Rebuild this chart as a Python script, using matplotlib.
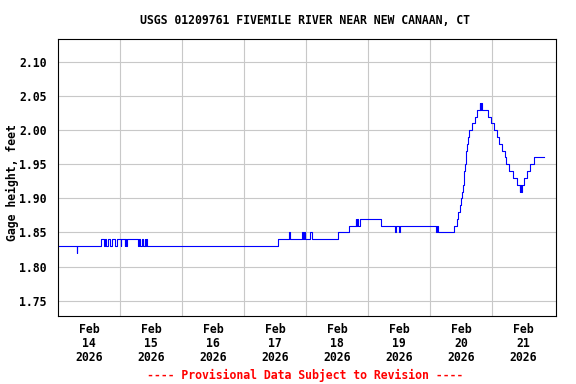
import pandas as pd
import numpy as np
import matplotlib
matplotlib.use('Agg')
import matplotlib.pyplot as plt

# gage height readings (breakpoints of the step series)
times = [
    "2026-02-14 00:00", "2026-02-14 07:15", "2026-02-14 07:30", "2026-02-14 16:45",
    "2026-02-14 17:45", "2026-02-14 18:15", "2026-02-14 18:45", "2026-02-14 19:15",
    "2026-02-14 20:15", "2026-02-14 21:00", "2026-02-14 22:15", "2026-02-14 22:45",
    "2026-02-15 00:15", "2026-02-15 00:30", "2026-02-15 01:45", "2026-02-15 02:00",
    "2026-02-15 02:30", "2026-02-15 02:45", "2026-02-15 07:00", "2026-02-15 07:15",
    "2026-02-15 07:45", "2026-02-15 08:30", "2026-02-15 08:45", "2026-02-15 09:30",
    "2026-02-15 09:45", "2026-02-15 10:15", "2026-02-15 10:30", "2026-02-17 13:15",
    "2026-02-17 17:30", "2026-02-17 17:45", "2026-02-17 22:15", "2026-02-17 22:45",
    "2026-02-17 23:15", "2026-02-17 23:30", "2026-02-18 01:30", "2026-02-18 02:30",
    "2026-02-18 12:15", "2026-02-18 16:30", "2026-02-18 19:15", "2026-02-18 19:30",
    "2026-02-18 19:45", "2026-02-18 20:00", "2026-02-18 20:45", "2026-02-19 05:00",
    "2026-02-19 10:15", "2026-02-19 10:45", "2026-02-19 12:00", "2026-02-19 12:30",
    "2026-02-20 02:15", "2026-02-20 02:45", "2026-02-20 03:00", "2026-02-20 09:15",
    "2026-02-20 10:15", "2026-02-20 11:00", "2026-02-20 11:45", "2026-02-20 12:00",
    "2026-02-20 12:30", "2026-02-20 12:45", "2026-02-20 13:00", "2026-02-20 13:15",
    "2026-02-20 13:30", "2026-02-20 13:45", "2026-02-20 14:00", "2026-02-20 14:15",
    "2026-02-20 14:30", "2026-02-20 15:00", "2026-02-20 16:15", "2026-02-20 17:15",
    "2026-02-20 18:15", "2026-02-20 19:15", "2026-02-20 19:30", "2026-02-20 19:45",
    "2026-02-20 20:15", "2026-02-20 22:30", "2026-02-20 23:30", "2026-02-21 00:45",
    "2026-02-21 02:00", "2026-02-21 02:30", "2026-02-21 03:45", "2026-02-21 05:00",
    "2026-02-21 05:30", "2026-02-21 06:30", "2026-02-21 08:15", "2026-02-21 09:30",
    "2026-02-21 10:45", "2026-02-21 11:00", "2026-02-21 11:15", "2026-02-21 11:45",
    "2026-02-21 12:30", "2026-02-21 13:30", "2026-02-21 14:30", "2026-02-21 16:15",
    "2026-02-21 20:15",
]
gage_ft = [
    1.83, 1.82, 1.83, 1.84,
    1.83, 1.84, 1.83, 1.84,
    1.83, 1.84, 1.83, 1.84,
    1.83, 1.84, 1.83, 1.84,
    1.83, 1.84, 1.83, 1.84,
    1.83, 1.84, 1.83, 1.84,
    1.83, 1.84, 1.83, 1.84,
    1.85, 1.84, 1.85, 1.84,
    1.85, 1.84, 1.85, 1.84,
    1.85, 1.86, 1.87, 1.86,
    1.87, 1.86, 1.87, 1.86,
    1.85, 1.86, 1.85, 1.86,
    1.85, 1.86, 1.85, 1.86,
    1.87, 1.88, 1.89, 1.90,
    1.91, 1.92, 1.93, 1.94,
    1.95, 1.96, 1.97, 1.98,
    1.99, 2.00, 2.01, 2.02,
    2.03, 2.04, 2.03, 2.04,
    2.03, 2.02, 2.01, 2.00,
    1.99, 1.98, 1.97, 1.96,
    1.95, 1.94, 1.93, 1.92,
    1.91, 1.92, 1.91, 1.92,
    1.93, 1.94, 1.95, 1.96,
    1.96,
]

title = "USGS 01209761 FIVEMILE RIVER NEAR NEW CANAAN, CT"
ylabel = "Gage height, feet"
footer = "---- Provisional Data Subject to Revision ----"
yticks = [1.75, 1.80, 1.85, 1.90, 1.95, 2.00, 2.05, 2.10]
label_days = pd.date_range("2026-02-14 12:00", "2026-02-21 12:00", freq="D")
grid_days = pd.date_range("2026-02-15", "2026-02-21", freq="D")

df = pd.DataFrame({'dt': pd.to_datetime(times), 'gage': gage_ft})

fnt = 'DejaVu Sans Mono'
fig = plt.figure(figsize=(5.76, 3.84), dpi=100)
ax = fig.add_axes([58/576, 1-316/384, 498/576, 277/384])

ax.plot(df['dt'], df['gage'], drawstyle='steps-post', color='#0000ff', lw=0.8)

ax.set_xlim(pd.Timestamp("2026-02-14 00:00"), pd.Timestamp("2026-02-22 00:45"))
ax.set_ylim(1.7275, 2.1338)

ax.set_yticks(yticks)
ax.set_yticklabels(["%.2f" % v for v in yticks], fontfamily=fnt, fontweight='bold', fontsize=8.3)
ax.set_xticks(label_days)
ax.set_xticklabels([d.strftime("%b\n%d\n%Y") for d in label_days], fontfamily=fnt,
                   fontweight='bold', fontsize=8.3, linespacing=1.12)
ax.set_xticks(grid_days, minor=True)
ax.tick_params(which='both', length=0)
ax.tick_params(axis='y', pad=8)
ax.tick_params(axis='x', pad=5)

ax.grid(axis='y', which='major', color='#c8c8c8', lw=0.8)
ax.grid(axis='x', which='minor', color='#c8c8c8', lw=0.8)
ax.set_axisbelow(True)
for s in ax.spines.values():
    s.set_linewidth(0.8)
    s.set_color('black')

fig.text(305/576, 1-20/384, title, ha='center', va='center', fontfamily=fnt,
         fontweight='bold', fontsize=8.3)
fig.text(12/576, 1-183/384, ylabel, ha='center', va='center', rotation=90,
         fontfamily=fnt, fontweight='bold', fontsize=8.3)
fig.text(305/576, 1-375/384, footer, ha='center', va='center', fontfamily=fnt,
         fontweight='bold', fontsize=8.3, color='#ff0000')

fig.savefig('out.png', dpi=100)
